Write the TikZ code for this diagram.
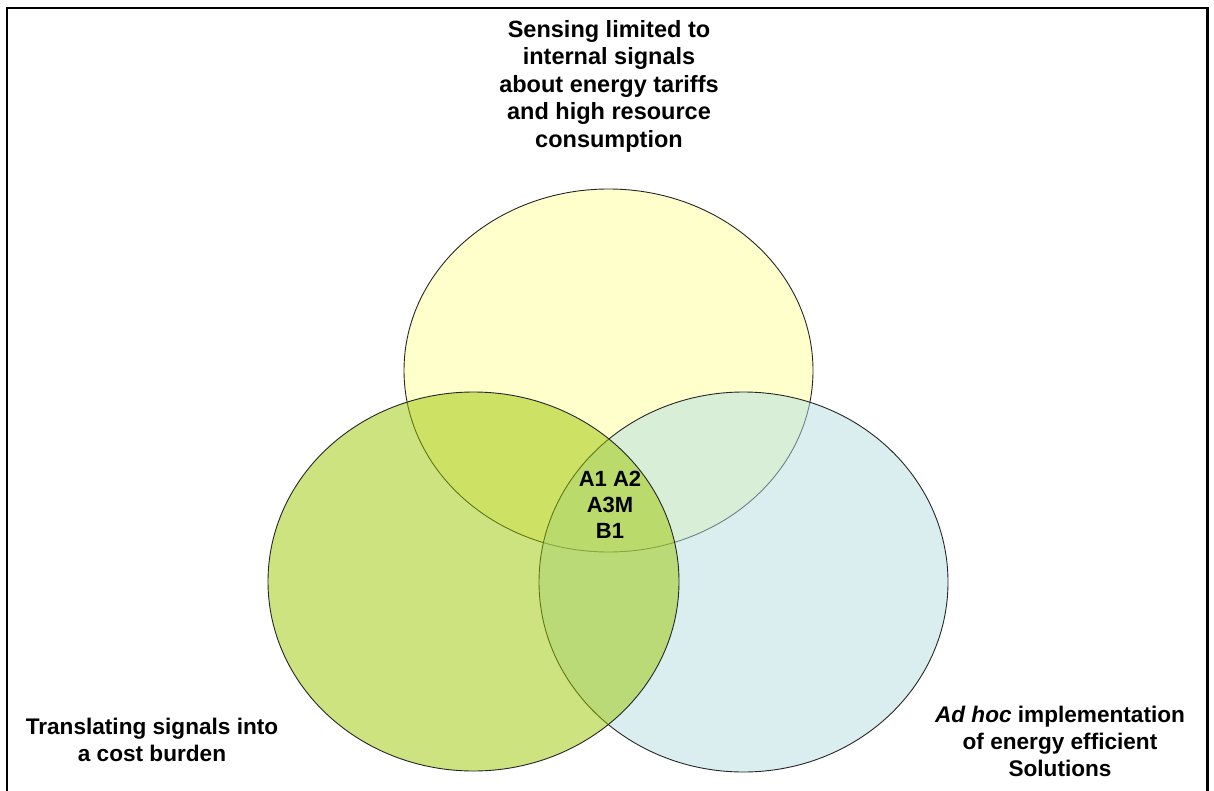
\documentclass[tikz,border=0pt]{standalone}
\usepackage{fontspec}
\setmainfont{Liberation Sans}
\definecolor{senseColour}{RGB}{255, 255, 153}
\definecolor{costColour}{RGB}{155, 199, 0}
\definecolor{adhocColour}{RGB}{181, 221, 225}
\usetikzlibrary{
    positioning
}
\tikzset{
    vennDiagram/.style={
        setfill/.style={
            draw=black!85,
            line width=0.9pt,
            fill opacity=0.5,
            draw opacity=1,
        },
        setlabel/.style={
            font=\bfseries\fontsize{23.5}{27.5}\selectfont,
            align=center,
            inner sep=0pt,
        },
        sidelabel/.style={
            font=\bfseries\fontsize{22.6}{27}\selectfont,
            align=center,
            inner sep=0pt,
        },
        corelabel/.style={
            font=\bfseries\fontsize{22}{26}\selectfont,
            align=center,
            inner sep=0pt,
        },
    }
}

\begin{document}
\begin{tikzpicture}[vennDiagram, x=1pt, y=-1pt]
    \useasboundingbox (0,0) rectangle (1214,791);
    % frame, open at the bottom
    \draw[line width=2.2pt] (7,800) -- (7,8) -- (1207.5,8) -- (1207.5,800);

    \begin{scope}
        \coordinate (sense_c) at (608.5,370.5);
        \coordinate (adhoc_c) at (743.5,582);
        \coordinate (cost_c) at (473.5,581.5);
        \draw[setfill, fill=senseColour] (sense_c) ellipse [x radius=204.5, y radius=181.5];
        \draw[setfill, fill=adhocColour] (adhoc_c) ellipse [x radius=204.5, y radius=190];
        \draw[setfill, fill=costColour] (cost_c) ellipse [x radius=205.5, y radius=189.5];
    \end{scope}

    \begin{scope}
        \node[setlabel] (sense_lbl) at (609,86) {Sensing limited to\\internal signals\\about energy tariffs\\and high resource\\consumption};
        \node[sidelabel] (cost_lbl) at (152,740) {Translating signals into\\a cost burden};
        \node[sidelabel] (adhoc_lbl) at (1060,741) {\textit{Ad hoc} implementation\\of energy efficient\\Solutions};
        \node[corelabel] (core_lbl) at (610,505) {A1 A2\\A3M\\B1};
    \end{scope}
\end{tikzpicture}
\end{document}
